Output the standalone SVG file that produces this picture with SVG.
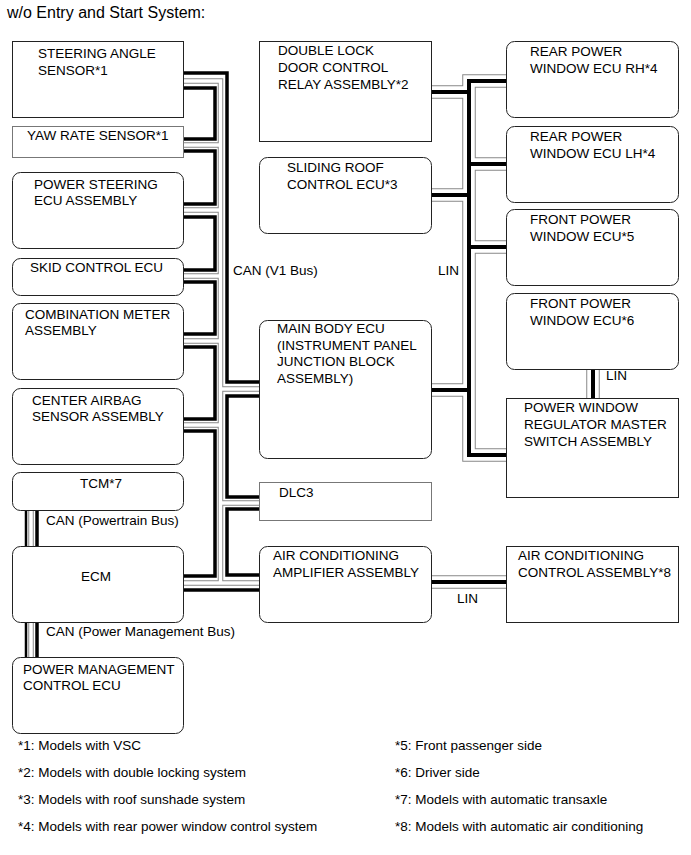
<svg xmlns="http://www.w3.org/2000/svg" width="691" height="855" viewBox="0 0 691 855">
<style>
text{font-family:"Liberation Sans",Arial,sans-serif;font-size:13.5px;fill:#000}
.t{font-size:16px}
.box{fill:#fff;stroke:#222;stroke-width:1}
.gbox{fill:#fff;stroke:#777;stroke-width:1}
.k{fill:none;stroke:#000;stroke-width:3.5;stroke-linejoin:miter;stroke-linecap:butt}
.hg{fill:none;stroke:#888;stroke-width:5.5;stroke-linejoin:miter;stroke-linecap:butt}
.hw{fill:none;stroke:#fff;stroke-width:3.5;stroke-linejoin:miter;stroke-linecap:butt}
.lg{fill:none;stroke:#888;stroke-width:13.5;stroke-linejoin:miter;stroke-linecap:butt}
.lw{fill:none;stroke:#fff;stroke-width:11.5;stroke-linejoin:miter;stroke-linecap:butt}
.lk{fill:none;stroke:#000;stroke-width:4;stroke-linejoin:miter;stroke-linecap:butt}
</style>
<rect width="691" height="855" fill="#fff"/>
<text class="t" x="7" y="18">w/o Entry and Start System:</text>
<g id="connectors">
  <!-- CAN V1 hollow (CAN L) -->
  <g>
    <path class="hg" d="M183 81 H220.5 V583 M183 583 H259 M183 145 H220.5 M183 210 H220.5 M183 276 H220.5 M183 341 H220.5 M183 425 H220.5 M220.5 389 H259 M220.5 503 H259"/>
    <path class="hw" d="M183 81 H220.5 V583 M183 583 H259 M183 145 H220.5 M183 210 H220.5 M183 276 H220.5 M183 341 H220.5 M183 425 H220.5 M220.5 389 H259 M220.5 503 H259"/>
  </g>
  <!-- CAN V1 black (CAN H) -->
  <path class="k" d="M183 73 H227 V382 H259"/>
  <path class="k" d="M183 88 H215 V139 H183"/>
  <path class="k" d="M183 151 H215 V204 H183"/>
  <path class="k" d="M183 217 H215 V270 H183"/>
  <path class="k" d="M183 282 H215 V334 H183"/>
  <path class="k" d="M183 347 H215 V419 H183"/>
  <path class="k" d="M183 431 H215 V576 H183"/>
  <path class="k" d="M259 396 H227 V497 H259"/>
  <path class="k" d="M259 509 H227 V575 H259"/>
  <path class="k" d="M183 590 H259"/>
  <!-- CAN Powertrain / Power Management -->
  <path class="k" style="stroke-width:2.5" d="M26 510 V546 M26 622 V657"/>
  <path class="hg" d="M31 510 V546 M31 622 V657"/>
  <path class="hw" d="M31 510 V546 M31 622 V657"/>
  <path class="k" d="M37 510 V546 M37 622 V657"/>
  <!-- LIN -->
  <path class="lg" d="M507 81 H469 V455 H507 M431 92 H469 M469 164 H507 M431 195 H469 M469 247 H507 M431 390 H469 M431 582 H507 M593 369 V398"/>
  <path class="lw" d="M507 81 H469 V455 H507 M431 92 H469 M469 164 H507 M431 195 H469 M469 247 H507 M431 390 H469 M431 582 H507 M593 369 V398"/>
  <path class="lk" d="M507 81 H469 V455 H507 M431 92 H469 M469 164 H507 M431 195 H469 M469 247 H507 M431 390 H469 M431 582 H507 M593 369 V398"/>
  <text x="233" y="275">CAN (V1 Bus)</text>
  <text x="438" y="275">LIN</text>
  <text x="46" y="525">CAN (Powertrain Bus)</text>
  <text x="46" y="636">CAN (Power Management Bus)</text>
  <text x="606" y="380">LIN</text>
  <text x="457" y="603">LIN</text>
</g>
<g id="steering-angle-sensor"><rect class="box" x="12.5" y="41.5" width="171" height="76"/><text x="38" y="58">STEERING ANGLE</text><text x="38" y="75">SENSOR*1</text></g>
<g id="yaw-rate-sensor"><rect class="gbox" x="12.5" y="126.5" width="171" height="31"/><text x="27" y="140">YAW RATE SENSOR*1</text></g>
<g id="power-steering-ecu"><rect class="box" x="12.5" y="172.5" width="171" height="76" rx="8"/><text x="34" y="189">POWER STEERING</text><text x="34" y="205">ECU ASSEMBLY</text></g>
<g id="skid-control-ecu"><rect class="box" x="12.5" y="258.5" width="171" height="37" rx="8"/><text x="30" y="272">SKID CONTROL ECU</text></g>
<g id="combination-meter"><rect class="box" x="12.5" y="303.5" width="171" height="76" rx="8"/><text x="25" y="319">COMBINATION METER</text><text x="25" y="335">ASSEMBLY</text></g>
<g id="center-airbag-sensor"><rect class="box" x="12.5" y="388.5" width="171" height="76" rx="8"/><text x="32" y="405">CENTER AIRBAG</text><text x="32" y="421">SENSOR ASSEMBLY</text></g>
<g id="tcm"><rect class="box" x="12.5" y="472.5" width="171" height="38" rx="8"/><text x="80" y="488">TCM*7</text></g>
<g id="ecm"><rect class="box" x="12.5" y="546.5" width="171" height="76" rx="8"/><text x="81" y="581">ECM</text></g>
<g id="power-management-ecu"><rect class="box" x="12.5" y="657.5" width="171" height="76" rx="8"/><text x="23" y="674">POWER MANAGEMENT</text><text x="23" y="690">CONTROL ECU</text></g>
<g id="double-lock-relay"><rect class="box" x="259.5" y="41.5" width="172" height="100"/><text x="278" y="55">DOUBLE LOCK</text><text x="278" y="72">DOOR CONTROL</text><text x="278" y="89">RELAY ASSEMBLY*2</text></g>
<g id="sliding-roof-ecu"><rect class="box" x="259.5" y="157.5" width="172" height="76" rx="8"/><text x="287" y="172">SLIDING ROOF</text><text x="287" y="189">CONTROL ECU*3</text></g>
<g id="main-body-ecu"><rect class="box" x="259.5" y="320.5" width="172" height="138" rx="8"/><text x="277" y="333">MAIN BODY ECU</text><text x="277" y="350">(INSTRUMENT PANEL</text><text x="277" y="366">JUNCTION BLOCK</text><text x="277" y="383">ASSEMBLY)</text></g>
<g id="dlc3"><rect class="gbox" x="259.5" y="482.5" width="172" height="38"/><text x="279" y="497">DLC3</text></g>
<g id="ac-amplifier"><rect class="box" x="259.5" y="546.5" width="172" height="76" rx="8"/><text x="273" y="560">AIR CONDITIONING</text><text x="273" y="577">AMPLIFIER ASSEMBLY</text></g>
<g id="rear-power-window-rh"><rect class="box" x="506.5" y="41.5" width="172" height="76" rx="8"/><text x="530" y="56">REAR POWER</text><text x="530" y="73">WINDOW ECU RH*4</text></g>
<g id="rear-power-window-lh"><rect class="box" x="506.5" y="126.5" width="172" height="76" rx="8"/><text x="530" y="141">REAR POWER</text><text x="530" y="158">WINDOW ECU LH*4</text></g>
<g id="front-power-window-5"><rect class="box" x="506.5" y="209.5" width="172" height="76" rx="8"/><text x="530" y="224">FRONT POWER</text><text x="530" y="241">WINDOW ECU*5</text></g>
<g id="front-power-window-6"><rect class="box" x="506.5" y="293.5" width="172" height="76" rx="8"/><text x="530" y="308">FRONT POWER</text><text x="530" y="325">WINDOW ECU*6</text></g>
<g id="power-window-master-switch"><rect class="box" x="506.5" y="398.5" width="172" height="99"/><text x="524" y="412">POWER WINDOW</text><text x="524" y="429">REGULATOR MASTER</text><text x="524" y="446">SWITCH ASSEMBLY</text></g>
<g id="ac-control-assembly"><rect class="box" x="506.5" y="546.5" width="172" height="76"/><text x="518" y="560">AIR CONDITIONING</text><text x="518" y="577">CONTROL ASSEMBLY*8</text></g>
<g id="footnotes">
  <text x="18" y="750">*1: Models with VSC</text>
  <text x="18" y="777">*2: Models with double locking system</text>
  <text x="18" y="804">*3: Models with roof sunshade system</text>
  <text x="18" y="831">*4: Models with rear power window control system</text>
  <text x="395" y="750">*5: Front passenger side</text>
  <text x="395" y="777">*6: Driver side</text>
  <text x="395" y="804">*7: Models with automatic transaxle</text>
  <text x="395" y="831">*8: Models with automatic air conditioning</text>
</g>
</svg>
